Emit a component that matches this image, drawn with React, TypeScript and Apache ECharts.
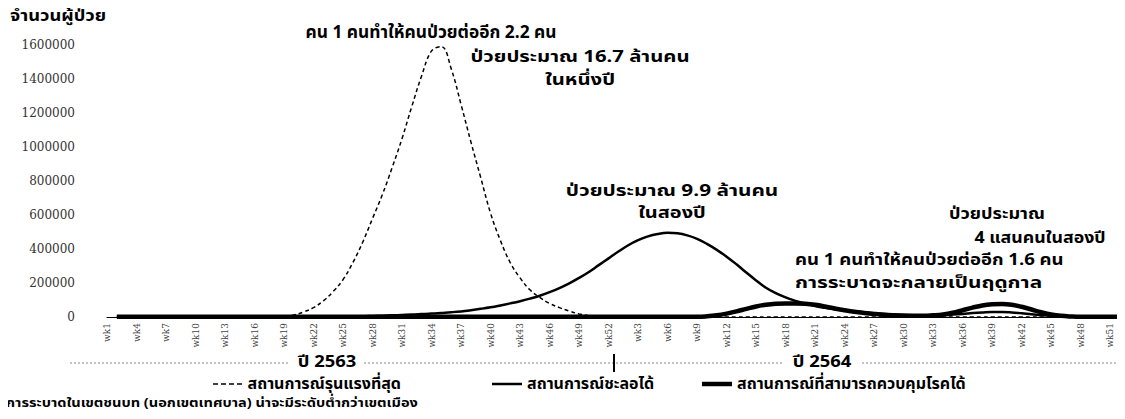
import React, { useEffect, useRef } from "react";
import * as echarts from "echarts";

const weeks: string[] = [];
for (let y = 0; y < 2; y++) for (let w = 1; w <= 52; w++) weeks.push("wk" + w);

const yTicks = [0, 200000, 400000, 600000, 800000, 1000000, 1200000, 1400000, 1600000];

const seriesNames = [
  "สถานการณ์รุนแรงที่สุด",
  "สถานการณ์ชะลอได้",
  "สถานการณ์ที่สามารถควบคุมโรคได้",
];

const severe: (number | null)[] = [
  null,
  0, 0, 0, 0, 0, 0, 0, 0, 0, 0, 0, 0, 0, 0, 0, 0,
  2000, 5000, 12000, 30000, 55000, 95000, 150000, 220000, 320000, 440000,
  580000, 720000, 880000, 1050000, 1240000, 1420000, 1565000, 1590000, 1460000, 1250000,
  1030000, 820000, 610000, 450000, 320000, 230000, 160000, 115000, 80000, 55000,
  35000, 18000, 8000, 3000, 1000,
  0, 0, 0, 0, 0, 0, 0, 0, 0, 0, 0, 0, 0, 0, 0, 0, 0, 0, 0, 0, 0, 0, 0, 0, 0, 0,
  0, 0, 0, 0, 0, 0, 0, 0, 0, 0, 0, 0, 0, 0, 0, 0, 0, 0, 0, 0, 0, 0, 0, 0, 0, 0,
];

const moderate: (number | null)[] = [
  null,
  1000, 1000, 1000, 1000, 1000, 1000, 1000, 1000, 1000, 1000,
  1000, 1000, 1000, 1000, 1000, 1000, 1000, 1000, 1000, 1000,
  1500, 2000, 2500, 3000, 3500,
  4000, 6000, 8000, 10000, 12000, 14000, 17000, 20000, 24000, 28000,
  33000, 40000, 48000, 57000, 68000, 80000, 93000, 108000, 125000, 146000,
  170000, 198000, 230000, 265000, 305000, 345000, 385000, 422000, 452000, 474000,
  488000, 495000, 492000, 480000, 460000, 430000, 395000, 355000, 310000, 262000,
  215000, 172000, 140000, 115000, 95000, 79000, 65000, 54000, 45000, 38000,
  32000, 27000, 22000, 18000, 15000, 13000, 11000, 10000, 10000, 11000,
  14000, 18000, 23000, 27000, 30000, 30000, 27000, 22000, 16000, 11000,
  7000, 5000, 3000, 2000, 1500, 1000, 1000, 1000,
];

const controlled: (number | null)[] = [
  null,
  1000, 1000, 1000, 1000, 1000, 1000, 1000, 1000, 1000, 1000,
  1000, 1000, 1000, 1000, 1000, 1000, 1000, 1000, 1000, 1000,
  1000, 1000, 1000, 1000, 1000, 1000, 1000, 1000, 1000, 1000,
  1000, 1000, 1000, 1000, 1000, 1000, 1000, 1000, 1000, 1000,
  1000, 1000, 1000, 1000, 1000, 1000, 1000, 1000, 1000, 1000,
  1000, 1000, 1000, 1000, 1000, 1000, 1000, 1000, 1000, 1000,
  4000, 10000, 20000, 33000, 48000, 62000, 72000, 78000, 80000, 80000,
  78000, 72000, 62000, 50000, 40000, 31000, 24000, 18000, 13000, 10000,
  8000, 7000, 7000, 10000, 15000, 25000, 40000, 55000, 68000, 75000,
  77000, 72000, 60000, 44000, 28000, 15000, 7000, 3000, 1000, 1000,
  1000, 1000, 1000,
];

const THAI = "Tahoma, 'Noto Sans Thai', 'Loma', 'Garuda', 'Noto Sans', sans-serif";

export default function App() {
  const ref = useRef<HTMLDivElement>(null);
  useEffect(() => {
    if (!ref.current) return;
    const chart = echarts.init(ref.current, undefined, { renderer: "svg" });
    const txt = (
      text: string,
      x: number,
      y: number,
      size: number,
      align: string = "center",
      sx: number = 1
    ) => ({
      type: "text",
      x,
      y,
      scaleX: sx,
      style: {
        text,
        font: `bold ${size}px ${THAI}`,
        fill: "#000",
        textAlign: align,
        textVerticalAlign: "middle",
      },
    });
    const dotted = (x1: number, x2: number) => ({
      type: "line",
      shape: { x1, y1: 363, x2, y2: 363 },
      style: { stroke: "#888", lineWidth: 1, lineDash: [2, 2] },
    });
    const legendText = { fontFamily: THAI, fontWeight: "bold", fontSize: 16, color: "#000" };
    const legendCommon = {
      itemWidth: 30,
      itemGap: 0,
      selectedMode: false,
      itemStyle: { color: "#000", borderWidth: 0 },
      textStyle: legendText,
    };
    chart.setOption({
      animation: false,
      grid: { left: 107, right: 5, top: 45, bottom: 102, containLabel: false },
      legend: [
        {
          ...legendCommon,
          left: 208,
          top: 371,
          itemHeight: 1.5,
          icon: "path://M0,0h5v1.5h-5zM8,0h5v1.5h-5zM16,0h5v1.5h-5zM24,0h5v1.5h-5z",
          data: [seriesNames[0]],
        },
        {
          ...legendCommon,
          left: 487,
          top: 371,
          itemHeight: 2.5,
          icon: "rect",
          data: [seriesNames[1]],
        },
        {
          ...legendCommon,
          left: 697,
          top: 371,
          itemHeight: 4.5,
          icon: "rect",
          data: [seriesNames[2]],
        },
      ],
      xAxis: {
        type: "category",
        data: weeks,
        boundaryGap: false,
        axisLine: { show: true, lineStyle: { color: "#000", width: 1 } },
        axisTick: { show: false },
        axisLabel: {
          interval: 2,
          rotate: 90,
          fontFamily: "'DejaVu Serif', serif",
          fontSize: 9,
          color: "#444",
          margin: 6,
        },
        splitLine: { show: false },
      },
      yAxis: {
        type: "value",
        min: yTicks[0],
        max: yTicks[yTicks.length - 1],
        interval: yTicks[1] - yTicks[0],
        axisLine: { show: false },
        axisTick: { show: false },
        splitLine: { show: false },
        axisLabel: {
          fontFamily: "'DejaVu Serif', serif",
          fontSize: 12,
          color: "#333",
          margin: 32,
          formatter: (v: number) => String(v),
        },
      },
      series: [
        {
          name: seriesNames[0],
          type: "line",
          data: severe,
          smooth: 0.4,
          symbol: "none",
          lineStyle: { color: "#000", width: 1.5, type: [4, 3] },
          itemStyle: { color: "#000" },
        },
        {
          name: seriesNames[1],
          type: "line",
          data: moderate,
          smooth: 0.4,
          symbol: "none",
          lineStyle: { color: "#000", width: 2.5 },
          itemStyle: { color: "#000" },
        },
        {
          name: seriesNames[2],
          type: "line",
          data: controlled,
          smooth: 0.4,
          symbol: "none",
          lineStyle: { color: "#000", width: 4.5 },
          itemStyle: { color: "#000" },
        },
      ],
      graphic: [
        txt("จำนวนผู้ป่วย", 10, 17, 15, "left", 1.22),
        txt("คน 1 คนทำให้คนป่วยต่ออีก 2.2 คน", 431, 33, 17, "center", 1.02),
        txt("ป่วยประมาณ 16.7 ล้านคน", 580, 57, 16, "center", 1.27),
        txt("ในหนึ่งปี", 580, 80, 16, "center", 1.27),
        txt("ป่วยประมาณ 9.9 ล้านคน", 672, 191, 16, "center", 1.3),
        txt("ในสองปี", 672, 213, 16, "center", 1.25),
        txt("ป่วยประมาณ", 997, 214, 16, "center", 1.13),
        txt("4 แสนคนในสองปี", 1040, 238, 16, "center", 1.11),
        txt("คน 1 คนทำให้คนป่วยต่ออีก 1.6 คน", 795, 260, 16, "left", 1.16),
        txt("การระบาดจะกลายเป็นฤดูกาล", 795, 283, 16, "left", 1.3),
        dotted(70, 290),
        dotted(364, 782),
        dotted(862, 1118),
        {
          type: "line",
          shape: { x1: 614, y1: 354, x2: 614, y2: 372 },
          style: { stroke: "#000", lineWidth: 2 },
        },
        txt("ปี 2563", 327, 362, 16, "center", 1.15),
        txt("ปี 2564", 822, 362, 16, "center", 1.15),
        txt("การระบาดในเขตชนบท (นอกเขตเทศบาล) น่าจะมีระดับต่ำกว่าเขตเมือง", 6, 403, 13, "left", 1.12),
      ],
    });
    return () => chart.dispose();
  }, []);
  return <div ref={ref} style={{ width: 1125, height: 419, margin: -8 }} />;
}
